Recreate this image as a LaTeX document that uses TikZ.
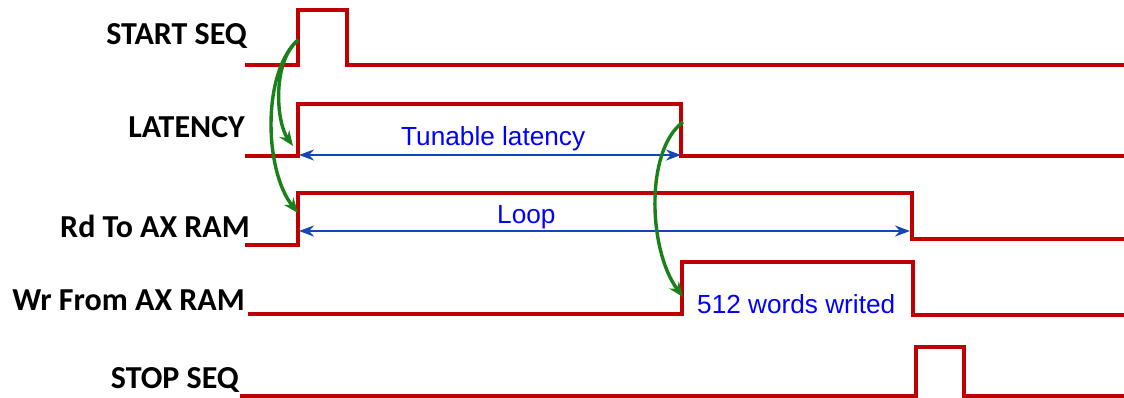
\documentclass[tikz,border=0pt]{standalone}
\usepackage{fontspec}
\setmainfont{Liberation Sans}
\newfontfamily\lblfont{Carlito}
\usetikzlibrary{arrows.meta}
\definecolor{sigred}{RGB}{192,0,0}
\definecolor{arrblue}{RGB}{20,70,180}
\definecolor{txtblue}{RGB}{0,0,255}
\definecolor{arrgreen}{RGB}{26,128,26}
\begin{document}
\begin{tikzpicture}[x=1pt,y=-1pt,
  sig/.style={draw=sigred,line width=4pt,line join=miter},
  lbl/.style={inner sep=0pt,anchor=base east,font=\lblfont\bfseries\fontsize{32}{38}\selectfont},
  btxt/.style={inner sep=0pt,anchor=base west,text=txtblue,font=\fontsize{26.2}{31}\selectfont},
  span/.style={draw=arrblue,line width=2.4pt,{Stealth[length=15pt,width=11pt]}-{Stealth[length=15pt,width=11pt]}},
  cause/.style={draw=arrgreen,line width=3.4pt,-{Stealth[length=15pt,width=12pt]}}]
\useasboundingbox (0,0) rectangle (1124,398);
% labels
\node[lbl] (lstart) at (247,45) {START SEQ};
\node[lbl] (llat) at (245,138) {LATENCY};
\node[lbl] (lrd) at (250,237) {Rd To AX RAM};
\node[lbl] (lwr) at (245,310) {Wr From AX RAM};
\node[lbl] (lstop) at (239,388) {STOP SEQ};
% signals
\draw[sig] (245,65) -- (298,65) -- (298,10) -- (347,10) -- (347,65) -- (1124,65);
\draw[sig] (245,156) -- (298,156) -- (298,104) -- (681,104) -- (681,156) -- (1124,156);
\draw[sig] (245,245) -- (298,245) -- (298,193) -- (912,193) -- (912,239) -- (1124,239);
\draw[sig] (248,314) -- (682,314) -- (682,262) -- (913,262) -- (913,315) -- (1124,315);
\draw[sig] (240,396) -- (916,396) -- (916,347) -- (964,347) -- (964,396) -- (1124,396);
% reference points
\coordinate (startrise) at (298,40);
\coordinate (latrise) at (293,146);
\coordinate (rdrise) at (298,213);
\coordinate (latfall) at (683,122);
\coordinate (wrrise) at (683,297);
\coordinate (latL) at (299,155);
\coordinate (latR) at (681,155);
\coordinate (loopL) at (299,231);
\coordinate (loopR) at (910,231);
% spans
\draw[span] (latL) -- (latR);
\draw[span] (loopL) -- (loopR);
\node[btxt] (ttun) at (401,146) {Tunable latency};
\node[btxt] (tloop) at (497,223) {Loop};
\node[btxt] (twords) at (697,313) {512 words writed};
% causal arrows
\draw[cause] (startrise) .. controls (272,62) and (276,122) .. (latrise);
\draw[cause] (startrise) .. controls (262,72) and (264,170) .. (rdrise);
\draw[cause] (latfall) .. controls (645,150) and (648,250) .. (wrrise);
\end{tikzpicture}
\end{document}
